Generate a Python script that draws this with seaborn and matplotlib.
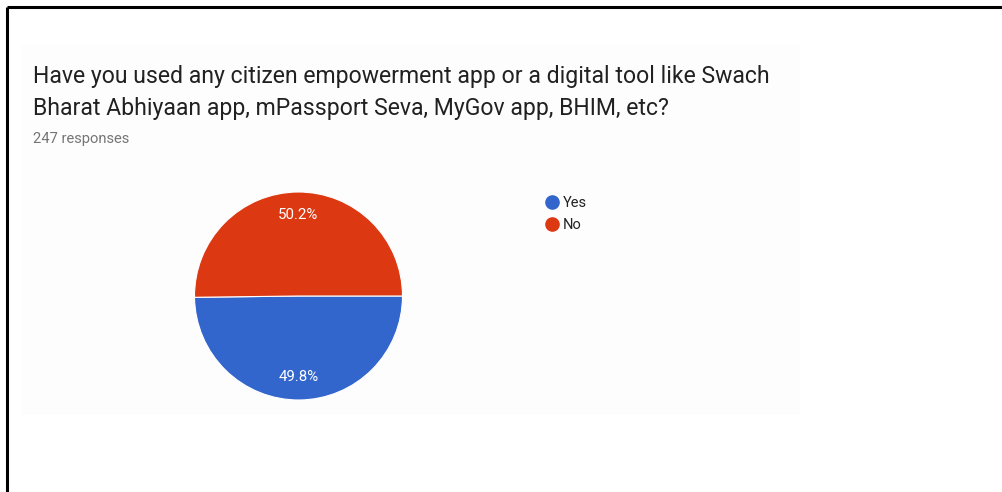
import matplotlib
matplotlib.use("Agg")
import matplotlib.pyplot as plt
from matplotlib.lines import Line2D
from matplotlib.patches import Rectangle
import seaborn as sns

# Survey results
categories = ["Yes", "No"]
shares = [49.8, 50.2]
responses = 247
question_lines = [
    "Have you used any citizen empowerment app or a digital tool like Swach",
    "Bharat Abhiyaan app, mPassport Seva, MyGov app, BHIM, etc?",
]

sns.set_theme(style="white")
plt.rcParams["font.family"] = ["Roboto", "DejaVu Sans"]
colors = sns.color_palette(["#3366cc", "#dc3912"])

W, H = 1003, 492
fig = plt.figure(figsize=(W / 100, H / 100), dpi=100, facecolor="white")

def fx(px):
    return px / W

def fy(py):
    return 1 - py / H

# faint card background
fig.add_artist(Rectangle((fx(21), fy(415)), fx(800) - fx(21), fy(44) - fy(415),
                         transform=fig.transFigure, facecolor="#fdfdfd",
                         edgecolor="none", zorder=0))

# frame lines on the left and top
fig.add_artist(Line2D([fx(7), fx(7)], [0, fy(7)], transform=fig.transFigure,
                      color="black", lw=2.2, solid_capstyle="butt"))
fig.add_artist(Line2D([fx(7), 1], [fy(7), fy(7)], transform=fig.transFigure,
                      color="black", lw=2.2, solid_capstyle="butt"))

# title and response count
for i, line in enumerate(question_lines):
    fig.text(fx(33), fy(76 + 32 * i), line, fontsize=16.6, color="#212121",
             va="center", ha="left")
fig.text(fx(33), fy(139), f"{responses} responses", fontsize=10.6,
         color="#757575", va="center", ha="left")

# pie
cx, cy, r = 298.5, 296, 104
ax = fig.add_axes([fx(cx - r), fy(cy + r), 2 * r / W, 2 * r / H])
wedges, texts, autotexts = ax.pie(
    shares, colors=colors, startangle=0, counterclock=False,
    autopct="%.1f%%", pctdistance=0.78,
    wedgeprops=dict(edgecolor="white", linewidth=0.8),
    textprops=dict(color="white", fontsize=10.8))
ax.set_xlim(-1, 1)
ax.set_ylim(-1, 1)
ax.set_aspect("auto")
ax.axis("off")

# legend
handles = [Line2D([], [], marker="o", linestyle="none", markersize=9.5,
                  markerfacecolor=c, markeredgecolor=c) for c in colors]
fig.legend(handles, categories, loc="upper left",
           bbox_to_anchor=(fx(537), fy(190)), frameon=False,
           fontsize=10.5, handletextpad=0.15, labelspacing=0.55,
           borderaxespad=0, handlelength=1.2, labelcolor="#222222")

fig.savefig("out.png", dpi=100, facecolor="white")
